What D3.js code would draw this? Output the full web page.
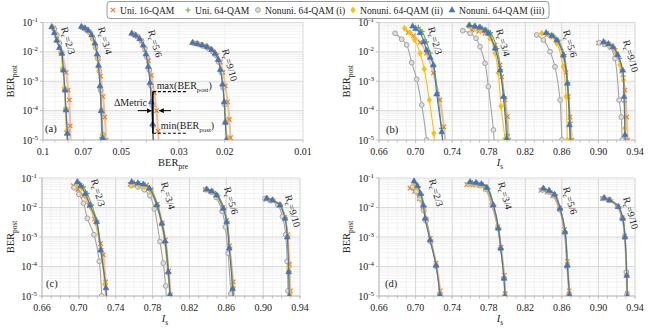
<!DOCTYPE html>
<html>
<head>
<meta charset="utf-8">
<script src="https://cdn.jsdelivr.net/npm/d3@7"></script>
<style>
body { margin: 0; background: #fff; }
svg { font-family: "Liberation Serif", "Times New Roman", serif; }
</style>
</head>
<body>
<svg id="chart" width="656" height="331"></svg>
<script>
// ---- data ----
const seriesNames = ["Uni. 16-QAM", "Uni. 64-QAM", "Nonuni. 64-QAM (i)", "Nonuni. 64-QAM (ii)", "Nonuni. 64-QAM (iii)"];
const rateNames = ["2/3", "3/4", "5/6", "9/10"];
const yTicks = [1e-1, 1e-2, 1e-3, 1e-4, 1e-5];
const yTickExp = ["-1", "-2", "-3", "-4", "-5"];
const berPreTicks = [0.1, 0.07, 0.05, 0.03, 0.02, 0.01];
const berPreTickLabels = ["0.1", "0.07", "0.05", "0.03", "0.02", "0.01"];
const isTicks = [0.66, 0.70, 0.74, 0.78, 0.82, 0.86, 0.90, 0.94];

// panel (a): BER_pre vs BER_post, one list per code rate
const a16 = [
  [[0.091,0.065],[0.0885,0.035],[0.0862,0.017],[0.0845,0.009],[0.0815,0.002],[0.0800,5e-4],[0.0792,2.3e-4],[0.0786,3e-5],[0.0782,5e-6]],
  [[0.0705,0.068],[0.0685,0.06],[0.0665,0.048],[0.0645,0.03],[0.0628,0.015],[0.0612,0.006],[0.0600,0.0015],[0.0588,3e-4],[0.0578,6e-5],[0.0572,1e-5],[0.0568,4e-6]],
  [[0.0450,0.04],[0.0434,0.033],[0.0418,0.023],[0.0405,0.012],[0.0393,0.005],[0.0383,0.0016],[0.0373,4e-4],[0.0366,1e-4],[0.0361,2e-5],[0.0358,6e-6]],
  [[0.0262,0.02],[0.0250,0.018],[0.0240,0.016],[0.0230,0.013],[0.0222,0.0105],[0.0214,0.0075],[0.0208,0.0045],[0.0203,0.002],[0.0199,7e-4],[0.0195,2e-4],[0.0192,5e-5],[0.0190,1.2e-5],[0.0189,5e-6]]
];
const a64 = [
  [[0.0915,0.068],[0.0895,0.042],[0.0875,0.022],[0.0852,0.0095],[0.0838,0.0025],[0.0826,5e-4],[0.0818,1e-4],[0.0810,1.5e-5],[0.0806,5e-6]],
  [[0.0708,0.07],[0.0688,0.063],[0.0668,0.052],[0.0648,0.035],[0.0630,0.018],[0.0618,0.0075],[0.0610,0.003],[0.0603,6e-4],[0.0598,9e-5],[0.0594,1.2e-5],[0.0591,5e-6]],
  [[0.0452,0.042],[0.0437,0.035],[0.0422,0.026],[0.0410,0.015],[0.0400,0.0075],[0.0392,0.0028],[0.0386,8e-4],[0.0382,1.8e-4],[0.0379,3e-5],[0.0377,7e-6]],
  [[0.0262,0.02],[0.0252,0.0185],[0.0242,0.0165],[0.0232,0.0145],[0.0224,0.0115],[0.0217,0.0085],[0.0211,0.005],[0.0207,0.0022],[0.0203,7e-4],[0.0201,1.8e-4],[0.0199,4e-5],[0.0197,1e-5],[0.0196,4e-6]]
];
const aN1 = [
  [[0.0905,0.06],[0.0885,0.038],[0.0865,0.02],[0.0848,0.009],[0.0836,0.0025],[0.0825,5.5e-4],[0.0815,1.1e-4],[0.0806,2e-5],[0.0800,5e-6]],
  [[0.0700,0.065],[0.0680,0.057],[0.0660,0.045],[0.0642,0.028],[0.0628,0.014],[0.0616,0.006],[0.0607,0.0022],[0.0600,5e-4],[0.0593,9e-5],[0.0588,1.5e-5],[0.0585,5e-6]],
  [[0.0448,0.04],[0.0432,0.033],[0.0418,0.024],[0.0406,0.013],[0.0398,0.0065],[0.0390,0.0024],[0.0384,7e-4],[0.0380,1.5e-4],[0.0377,3e-5],[0.0375,7e-6]],
  [[0.0264,0.0195],[0.0253,0.018],[0.0243,0.016],[0.0233,0.014],[0.0224,0.011],[0.0217,0.008],[0.0211,0.0045],[0.0206,0.002],[0.0203,6e-4],[0.0200,1.6e-4],[0.0198,4e-5],[0.0196,1e-5],[0.0195,4e-6]]
];
const aN2 = [
  [[0.092,0.07],[0.0898,0.044],[0.0878,0.024],[0.0855,0.01],[0.0840,0.0028],[0.0828,6e-4],[0.0820,1.2e-4],[0.0812,2e-5],[0.0806,5e-6]],
  [[0.0710,0.07],[0.0690,0.062],[0.0670,0.05],[0.0650,0.033],[0.0632,0.017],[0.0619,0.007],[0.0610,0.0028],[0.0603,6e-4],[0.0596,1.1e-4],[0.0590,1.5e-5],[0.0586,5e-6]],
  [[0.0454,0.043],[0.0438,0.036],[0.0423,0.027],[0.0411,0.016],[0.0401,0.008],[0.0393,0.003],[0.0387,8.5e-4],[0.0382,1.9e-4],[0.0378,3.5e-5],[0.0375,8e-6]],
  [[0.0265,0.0205],[0.0254,0.019],[0.0243,0.0168],[0.0233,0.0148],[0.0224,0.0118],[0.0217,0.0088],[0.0211,0.0052],[0.0207,0.0024],[0.0203,7.5e-4],[0.0200,1.9e-4],[0.0198,4.5e-5],[0.0196,1.1e-5],[0.0195,4e-6]]
];
const aN3 = [
  [[0.0926,0.072],[0.0905,0.045],[0.0886,0.025],[0.0865,0.014],[0.0847,0.009],[0.0835,0.0024],[0.0823,5e-4],[0.0816,1.05e-4],[0.0806,1.7e-5],[0.0800,5e-6]],
  [[0.0712,0.073],[0.0690,0.065],[0.0670,0.055],[0.0650,0.038],[0.0632,0.02],[0.0620,0.0085],[0.0612,0.0035],[0.0604,7e-4],[0.0597,1e-4],[0.0590,1.2e-5],[0.0587,5e-6]],
  [[0.0456,0.043],[0.0440,0.037],[0.0425,0.028],[0.0412,0.017],[0.0402,0.0085],[0.0394,0.0032],[0.0388,9e-4],[0.0383,2e-4],[0.0379,3.5e-5],[0.0376,8e-6]],
  [[0.0266,0.021],[0.0255,0.019],[0.0244,0.017],[0.0234,0.015],[0.0225,0.012],[0.0218,0.009],[0.0212,0.0055],[0.0208,0.0025],[0.0204,8e-4],[0.0201,2e-4],[0.0199,4e-5],[0.0197,1e-5],[0.0196,4e-6]]
];

// panel (b): I_s vs BER_post
const b16 = [
  [[0.692,0.045],[0.6975,0.035],[0.705,0.021],[0.712,0.009],[0.7195,0.0019],[0.7267,2.3e-4],[0.731,2.8e-5],[0.733,6e-6]],
  [[0.7614,0.0556],[0.769,0.05],[0.776,0.043],[0.782,0.03],[0.7869,0.017],[0.7924,0.0036],[0.7942,0.0014],[0.7978,2.3e-4],[0.8004,6.3e-5],[0.802,1e-5],[0.8025,6e-6]],
  [[0.8435,0.0376],[0.850,0.032],[0.856,0.02],[0.8616,0.0069],[0.8646,0.002],[0.867,3e-4],[0.869,6e-5],[0.871,1e-5],[0.8715,6e-6]],
  [[0.900,0.02],[0.907,0.018],[0.914,0.014],[0.920,0.008],[0.9255,0.0022],[0.929,5e-4],[0.931,6e-5],[0.932,1e-5],[0.9325,6e-6]]
];
const b64 = [
  [[0.703,0.069],[0.707,0.05],[0.712,0.022],[0.716,0.009],[0.720,0.0035],[0.724,4e-4],[0.7285,2.5e-5],[0.730,8e-6]],
  [[0.764,0.075],[0.769,0.07],[0.773,0.065],[0.778,0.055],[0.782,0.045],[0.789,0.013],[0.793,0.0025],[0.797,3e-4],[0.8005,1.5e-5],[0.801,7e-6]],
  [[0.845,0.043],[0.851,0.035],[0.856,0.025],[0.8625,0.008],[0.8665,9e-4],[0.869,4e-5],[0.8698,8e-6]],
  [[0.908,0.021],[0.913,0.018],[0.918,0.013],[0.923,0.006],[0.927,0.0015],[0.9285,2e-4],[0.9295,1.5e-5],[0.930,7e-6]]
];
const bN1 = [
  [[0.6775,0.043],[0.6848,0.027],[0.6903,0.0172],[0.6958,0.0043],[0.7012,0.00117],[0.7067,1.56e-4],[0.7122,1e-5],[0.713,6e-6]],
  [[0.7516,0.0526],[0.7596,0.043],[0.7661,0.029],[0.7705,0.015],[0.776,0.0041],[0.7796,6.5e-4],[0.7851,2.2e-5],[0.786,8e-6]],
  [[0.8325,0.0376],[0.8398,0.0254],[0.8471,0.0102],[0.8525,0.0031],[0.858,2.3e-4],[0.860,1e-5],[0.8605,6e-6]],
  [[0.901,0.0206],[0.907,0.018],[0.9127,0.015],[0.918,0.006],[0.9227,2.3e-4],[0.925,6e-5],[0.926,1e-5],[0.9265,6e-6]]
];
const bN2 = [
  [[0.688,0.064],[0.694,0.045],[0.699,0.026],[0.705,0.009],[0.7095,0.0026],[0.715,2.3e-4],[0.720,1.7e-5],[0.721,6e-6]],
  [[0.7577,0.076],[0.764,0.065],[0.7705,0.0555],[0.7814,0.029],[0.7869,0.009],[0.7905,0.0019],[0.7935,1.4e-4],[0.7978,1.1e-5],[0.7985,6e-6]],
  [[0.838,0.043],[0.847,0.035],[0.8544,0.0196],[0.8616,0.0031],[0.8646,3e-4],[0.866,1e-5],[0.8665,6e-6]],
  [[0.907,0.0206],[0.913,0.017],[0.918,0.012],[0.9237,0.0036],[0.9273,0.0011],[0.929,2.5e-5],[0.9295,7e-6]]
];
const bN3 = [
  [[0.6968,0.076],[0.700,0.062],[0.7049,0.045],[0.709,0.022],[0.7122,0.0116],[0.716,0.0065],[0.7194,0.0036],[0.7231,3.7e-4],[0.7286,1.9e-5],[0.7295,8e-6]],
  [[0.7589,0.082],[0.765,0.075],[0.7705,0.069],[0.776,0.055],[0.7796,0.043],[0.7869,0.0133],[0.7924,0.0024],[0.796,3e-4],[0.7997,1.1e-5],[0.800,7e-6]],
  [[0.8427,0.045],[0.849,0.036],[0.8544,0.0254],[0.8616,0.0078],[0.866,8.6e-4],[0.8683,3.3e-5],[0.869,8e-6]],
  [[0.9055,0.0222],[0.911,0.019],[0.916,0.015],[0.921,0.008],[0.9266,0.0024],[0.928,3e-4],[0.929,1.5e-5],[0.9293,7e-6]]
];

// panel (c)
const c16 = [
  [[0.694,0.055],[0.699,0.04],[0.705,0.025],[0.711,0.012],[0.717,0.004],[0.7235,6e-4],[0.7265,2.5e-4],[0.729,3e-5],[0.7305,8e-6]],
  [[0.7555,0.061],[0.762,0.059],[0.7736,0.058],[0.7785,0.04],[0.785,0.013],[0.7905,0.003],[0.794,8e-4],[0.7975,7e-5],[0.7995,1.1e-5],[0.800,6e-6]],
  [[0.837,0.04],[0.843,0.035],[0.849,0.026],[0.8565,0.01],[0.8605,0.0036],[0.8635,5e-4],[0.8675,3e-5],[0.8685,8e-6]],
  [[0.903,0.019],[0.910,0.017],[0.9175,0.012],[0.9235,0.0045],[0.9265,0.0012],[0.9285,1.2e-4],[0.9295,1.5e-5],[0.930,6e-6]]
];
const c64 = [
  [[0.701,0.065],[0.705,0.05],[0.709,0.03],[0.714,0.012],[0.7195,0.0035],[0.724,4e-4],[0.7285,2.5e-5],[0.7295,8e-6]],
  [[0.760,0.07],[0.766,0.065],[0.772,0.058],[0.778,0.042],[0.7855,0.012],[0.7905,0.0028],[0.7945,6.5e-4],[0.7975,6e-5],[0.7993,1e-5],[0.7998,6e-6]],
  [[0.840,0.04],[0.846,0.035],[0.851,0.026],[0.8575,0.0095],[0.861,0.0033],[0.8638,4.5e-4],[0.8672,2e-5],[0.868,8e-6]],
  [[0.905,0.02],[0.911,0.018],[0.919,0.012],[0.924,0.0045],[0.9266,0.0011],[0.928,7e-5],[0.9287,1e-5],[0.929,6e-6]]
];
const cN1 = [
  [[0.6947,0.047],[0.700,0.028],[0.705,0.014],[0.7092,0.0043],[0.7164,0.0012],[0.7222,1.5e-4],[0.7248,1e-5],[0.725,6e-6]],
  [[0.757,0.055],[0.764,0.05],[0.771,0.04],[0.777,0.025],[0.782,0.009],[0.788,7e-4],[0.7916,1.3e-4],[0.7942,2.2e-5],[0.795,8e-6]],
  [[0.838,0.04],[0.844,0.033],[0.849,0.022],[0.8555,0.0075],[0.859,0.0022],[0.862,2.8e-4],[0.865,1.2e-5],[0.8655,7e-6]],
  [[0.902,0.02],[0.908,0.017],[0.916,0.012],[0.921,0.005],[0.9245,0.0012],[0.926,1.5e-4],[0.927,1.5e-5],[0.9275,6e-6]]
];
const cN2 = [
  [[0.6985,0.06],[0.703,0.045],[0.708,0.025],[0.713,0.01],[0.7185,0.003],[0.7235,3.5e-4],[0.728,2.5e-5],[0.729,8e-6]],
  [[0.758,0.06],[0.765,0.058],[0.771,0.052],[0.7775,0.038],[0.784,0.012],[0.7895,0.0028],[0.793,6.5e-4],[0.7965,6e-5],[0.7985,1.1e-5],[0.799,6e-6]],
  [[0.8385,0.042],[0.8445,0.035],[0.8495,0.025],[0.857,0.009],[0.8605,0.003],[0.8635,4e-4],[0.8668,2e-5],[0.8675,8e-6]],
  [[0.9045,0.0205],[0.9105,0.018],[0.9185,0.0125],[0.924,0.0045],[0.9265,0.0011],[0.928,9e-5],[0.929,1.2e-5],[0.9293,6e-6]]
];
const cN3 = [
  [[0.6983,0.075],[0.702,0.055],[0.707,0.03],[0.712,0.012],[0.7193,0.0033],[0.7237,3.6e-4],[0.7294,1.9e-5],[0.730,8e-6]],
  [[0.7573,0.075],[0.764,0.068],[0.770,0.062],[0.7765,0.045],[0.7845,0.0122],[0.790,0.0029],[0.7935,7.3e-4],[0.797,6.6e-5],[0.7989,1.1e-5],[0.7995,6e-6]],
  [[0.8387,0.042],[0.844,0.036],[0.8495,0.0265],[0.8567,0.0094],[0.8604,0.0033],[0.8632,4.2e-4],[0.8669,1.8e-5],[0.8675,8e-6]],
  [[0.9038,0.0205],[0.910,0.018],[0.9182,0.0122],[0.9237,0.0043],[0.9262,0.001],[0.9277,6.6e-5],[0.9283,1e-5],[0.9285,6e-6]]
];

// panel (d)
const d16 = [
  [[0.6939,0.045],[0.699,0.035],[0.704,0.02],[0.708,0.01],[0.7115,0.004],[0.716,9e-4],[0.7225,1.3e-4],[0.727,1.5e-5],[0.728,6e-6]],
  [[0.756,0.06],[0.763,0.058],[0.770,0.055],[0.7765,0.042],[0.7835,0.012],[0.790,0.0022],[0.7935,4.5e-4],[0.797,5e-5],[0.798,1.2e-5],[0.7985,6e-6]],
  [[0.837,0.038],[0.844,0.033],[0.850,0.025],[0.8575,0.009],[0.863,0.0018],[0.866,1.5e-4],[0.868,1.5e-5],[0.8688,6e-6]],
  [[0.9045,0.02],[0.911,0.018],[0.9205,0.011],[0.926,0.0045],[0.9288,0.0011],[0.9308,6e-5],[0.9315,1.2e-5],[0.932,6e-6]]
];
const d64 = [
  [[0.700,0.065],[0.703,0.05],[0.7065,0.028],[0.7095,0.011],[0.7115,0.0042],[0.7165,8e-4],[0.7228,1e-4],[0.7268,1e-5],[0.7275,6e-6]],
  [[0.762,0.07],[0.768,0.067],[0.774,0.06],[0.7795,0.045],[0.7855,0.012],[0.791,0.002],[0.7935,4e-4],[0.797,4e-5],[0.798,1e-5],[0.7985,6e-6]],
  [[0.841,0.042],[0.847,0.037],[0.853,0.027],[0.8585,0.0092],[0.8638,0.0015],[0.8662,1.1e-4],[0.8685,1e-5],[0.869,6e-6]],
  [[0.9075,0.021],[0.9135,0.018],[0.9225,0.0105],[0.927,0.0042],[0.9292,0.001],[0.931,5e-5],[0.9316,1e-5],[0.932,6e-6]]
];
const dN1 = [
  [[0.697,0.05],[0.701,0.035],[0.705,0.02],[0.709,0.008],[0.7115,0.0035],[0.7165,7e-4],[0.7225,1e-4],[0.7265,1.2e-5],[0.7275,6e-6]],
  [[0.758,0.062],[0.765,0.06],[0.771,0.055],[0.777,0.042],[0.784,0.012],[0.7898,0.002],[0.793,4e-4],[0.7965,4e-5],[0.7975,1e-5],[0.798,6e-6]],
  [[0.8385,0.04],[0.845,0.034],[0.851,0.025],[0.8575,0.0085],[0.8628,0.0014],[0.8655,1e-4],[0.8678,1.1e-5],[0.8685,6e-6]],
  [[0.905,0.02],[0.9115,0.018],[0.921,0.011],[0.926,0.0042],[0.9287,0.001],[0.9305,6.5e-5],[0.9313,1.1e-5],[0.9318,6e-6]]
];
const dN2 = [
  [[0.699,0.06],[0.7025,0.045],[0.706,0.025],[0.709,0.01],[0.711,0.004],[0.716,8e-4],[0.7225,1.2e-4],[0.727,1.2e-5],[0.7278,6e-6]],
  [[0.759,0.065],[0.766,0.063],[0.772,0.058],[0.778,0.045],[0.7848,0.012],[0.7903,0.002],[0.7932,4.2e-4],[0.7968,4e-5],[0.7978,1e-5],[0.7982,6e-6]],
  [[0.840,0.043],[0.846,0.037],[0.852,0.027],[0.858,0.009],[0.8633,0.0015],[0.866,1.1e-4],[0.868,1.1e-5],[0.8687,6e-6]],
  [[0.907,0.021],[0.913,0.018],[0.922,0.0105],[0.9268,0.0043],[0.929,0.001],[0.9308,5e-5],[0.9314,1e-5],[0.9318,6e-6]]
];
const dN3 = [
  [[0.6983,0.079],[0.702,0.055],[0.7055,0.03],[0.7085,0.012],[0.7103,0.0043],[0.7158,8e-4],[0.7224,1.1e-4],[0.7267,1.1e-5],[0.7275,6e-6]],
  [[0.7596,0.075],[0.766,0.07],[0.772,0.064],[0.778,0.048],[0.785,0.0122],[0.7905,0.002],[0.7931,4.2e-4],[0.7967,4e-5],[0.7978,1e-5],[0.7982,6e-6]],
  [[0.8398,0.045],[0.846,0.038],[0.852,0.028],[0.858,0.0094],[0.8635,0.0015],[0.866,1.1e-4],[0.8683,1.1e-5],[0.8688,6e-6]],
  [[0.9062,0.0215],[0.912,0.018],[0.9218,0.0107],[0.9266,0.0043],[0.929,0.001],[0.931,5e-5],[0.9315,1e-5],[0.9318,6e-6]]
];

// ---- styling ----
const markerColors = ["#ED7D31", "#70AD47", "#A5A5A5", "#FFC000", "#4472C4"];
const lineColors = ["#F4B183", "#70AD47", "#A5A5A5", "#FFC000", "#4472C4"];
const lineWidths = [2.0, 1.1, 1.1, 1.1, 1.1];
const shapes = ["cross", "plus", "circle", "diamond", "triangle"];

const panels = [
  { tag: "(a)", series: [a16, a64, aN1, aN2, aN3], log: true, domain: [0.1, 0.01], left: 43, right: 303, top: 22.5, bottom: 140,
    title: ["BER", "pre", false], titleX: 173, titleY: 166, yTitleX: 14, tagPos: [45, 132],
    ratePos: [[61, 28], [98, 28], [148, 31], [222, 50]] },
  { tag: "(b)", series: [b16, b64, bN1, bN2, bN3], log: false, domain: [0.66, 0.94], left: 379, right: 635, top: 22.5, bottom: 140,
    title: ["I", "s", true], titleX: 500, titleY: 166, yTitleX: 350, tagPos: [386, 133],
    ratePos: [[428, 28], [496, 30], [563, 31], [623, 41]] },
  { tag: "(c)", series: [c16, c64, cN1, cN2, cN3], log: false, domain: [0.66, 0.94], left: 42, right: 300, top: 178, bottom: 296,
    title: ["I", "s", true], titleX: 165, titleY: 322, yTitleX: 14, tagPos: [46, 287],
    ratePos: [[91, 180], [161, 183], [224, 188], [285, 196]] },
  { tag: "(d)", series: [d16, d64, dN1, dN2, dN3], log: false, domain: [0.66, 0.94], left: 379, right: 635, top: 178, bottom: 296,
    title: ["I", "s", true], titleX: 500, titleY: 322, yTitleX: 350, tagPos: [385, 287],
    ratePos: [[429, 180], [498, 183], [563, 188], [623, 198]] }
];

const svg = d3.select("#chart");
const defs = svg.append("defs");
defs.append("marker").attr("id", "arrowhead")
  .attr("viewBox", "0 0 10 10").attr("refX", 9).attr("refY", 5)
  .attr("markerWidth", 5).attr("markerHeight", 5).attr("orient", "auto")
  .append("path").attr("d", "M0,0L10,5L0,10z").attr("fill", "#000");

function markerPath(shape, x, y) {
  if (shape === "cross") return `M${x-2.2},${y-2.2}L${x+2.2},${y+2.2}M${x-2.2},${y+2.2}L${x+2.2},${y-2.2}`;
  if (shape === "plus") return `M${x-2.6},${y}L${x+2.6},${y}M${x},${y-2.6}L${x},${y+2.6}`;
  if (shape === "diamond") return `M${x},${y-3}L${x+2.4},${y}L${x},${y+3}L${x-2.4},${y}Z`;
  if (shape === "triangle") return `M${x},${y-3.2}L${x+2.9},${y+2}L${x-2.9},${y+2}Z`;
  return null;
}

function drawMarkers(g, shape, color, pts) {
  if (shape === "circle") {
    g.selectAll("circle.m").data(pts).join("circle").attr("class", "m")
      .attr("cx", d => d[0]).attr("cy", d => d[1]).attr("r", 2.4)
      .attr("fill", "#dedede").attr("stroke", color).attr("stroke-width", 1);
  } else {
    const filled = shape === "diamond" || shape === "triangle";
    g.selectAll("path.m").data(pts).join("path").attr("class", "m")
      .attr("d", d => markerPath(shape, d[0], d[1]))
      .attr("fill", filled ? color : "none")
      .attr("stroke", color).attr("stroke-width", filled ? 0.6 : 1.2);
  }
}

function subText(sel, main, sub, italic, size) {
  sel.append("tspan").text(main).attr("font-style", italic ? "italic" : null);
  sel.append("tspan").text(sub).attr("font-size", size * 0.7).attr("dy", 3);
}

panels.forEach((p, pi) => {
  const x = (p.log ? d3.scaleLog() : d3.scaleLinear()).domain(p.domain).range([p.left, p.right]);
  const y = d3.scaleLog().domain([1e-5, 1e-1]).range([p.bottom, p.top]);
  const g = svg.append("g");

  // minor grid
  const minorY = [];
  [1e-5, 1e-4, 1e-3, 1e-2].forEach(dec => { for (let k = 2; k <= 9; k++) minorY.push(k * dec); });
  const minorX = p.log ? d3.range(2, 10).map(k => k * 0.01) : d3.range(66, 95).map(v => v / 100);
  const majorX = p.log ? [0.1, 0.01] : isTicks;
  g.selectAll("line.gy").data(minorY).join("line").attr("class", "gy")
    .attr("x1", p.left).attr("x2", p.right).attr("y1", d => y(d)).attr("y2", d => y(d))
    .attr("stroke", "#efefef").attr("stroke-width", 0.8);
  g.selectAll("line.gx").data(minorX).join("line").attr("class", "gx")
    .attr("x1", d => x(d)).attr("x2", d => x(d)).attr("y1", p.top).attr("y2", p.bottom)
    .attr("stroke", "#efefef").attr("stroke-width", 0.8);
  // major grid
  g.selectAll("line.Gy").data(yTicks).join("line").attr("class", "Gy")
    .attr("x1", p.left).attr("x2", p.right).attr("y1", d => y(d)).attr("y2", d => y(d))
    .attr("stroke", "#d6d6d6").attr("stroke-width", 0.9);
  g.selectAll("line.Gx").data(majorX).join("line").attr("class", "Gx")
    .attr("x1", d => x(d)).attr("x2", d => x(d)).attr("y1", p.top).attr("y2", p.bottom)
    .attr("stroke", "#d6d6d6").attr("stroke-width", 0.9);
  // axis lines and ticks
  g.append("line").attr("x1", p.left).attr("x2", p.right).attr("y1", p.bottom).attr("y2", p.bottom)
    .attr("stroke", "#bfbfbf").attr("stroke-width", 1);
  g.append("line").attr("x1", p.left).attr("x2", p.left).attr("y1", p.top).attr("y2", p.bottom)
    .attr("stroke", "#bfbfbf").attr("stroke-width", 1);
  g.selectAll("line.tx").data(minorX.concat(majorX)).join("line").attr("class", "tx")
    .attr("x1", d => x(d)).attr("x2", d => x(d)).attr("y1", p.bottom).attr("y2", p.bottom + 2.5)
    .attr("stroke", "#bfbfbf");
  g.selectAll("line.ty").data(yTicks).join("line").attr("class", "ty")
    .attr("x1", p.left - 3).attr("x2", p.left).attr("y1", d => y(d)).attr("y2", d => y(d))
    .attr("stroke", "#bfbfbf");

  // y tick labels
  yTicks.forEach((t, i) => {
    const tx = g.append("text").attr("x", p.left - 5).attr("y", y(t) + 3.5)
      .attr("text-anchor", "end").attr("font-size", 10).attr("fill", "#222");
    tx.append("tspan").text("10");
    tx.append("tspan").text(yTickExp[i]).attr("font-size", 7).attr("dy", -4);
  });
  // x tick labels
  const xt = p.log ? berPreTicks : isTicks;
  g.selectAll("text.xt").data(xt).join("text").attr("class", "xt")
    .attr("x", d => x(d)).attr("y", p.bottom + 14.5).attr("text-anchor", "middle")
    .attr("font-size", 10).attr("fill", "#222")
    .text((d, i) => p.log ? berPreTickLabels[i] : d3.format(".2f")(d));

  // axis titles
  const xTitle = g.append("text").attr("x", p.titleX).attr("y", p.titleY)
    .attr("text-anchor", "middle").attr("font-size", 10.5).attr("fill", "#222");
  subText(xTitle, p.title[0], p.title[1], p.title[2], 10.5);
  const yTitle = g.append("text")
    .attr("transform", `translate(${p.yTitleX},${(p.top + p.bottom) / 2}) rotate(-90)`)
    .attr("text-anchor", "middle").attr("font-size", 10.5).attr("fill", "#222");
  subText(yTitle, "BER", "post", false, 10.5);

  // curves
  const clipId = "clip" + pi;
  defs.append("clipPath").attr("id", clipId).append("rect")
    .attr("x", p.left).attr("y", p.top - 4).attr("width", p.right - p.left).attr("height", p.bottom - p.top + 4);
  const plot = g.append("g").attr("clip-path", `url(#${clipId})`);
  const line = d3.line().x(d => x(d[0])).y(d => y(d[1])).curve(d3.curveCatmullRom.alpha(0.5));
  p.series.forEach((rates, si) => {
    const sg = plot.append("g");
    rates.forEach(pts => {
      sg.append("path").attr("d", line(pts)).attr("fill", "none")
        .attr("stroke", lineColors[si]).attr("stroke-width", lineWidths[si])
        .attr("stroke-opacity", si === 0 ? 0.85 : 1);
    });
    const mpts = rates.flat().map(d => [x(d[0]), y(d[1])]);
    drawMarkers(sg, shapes[si], markerColors[si], mpts);
  });

  // code-rate labels
  rateNames.forEach((r, i) => {
    const t = g.append("text")
      .attr("transform", `translate(${p.ratePos[i][0]},${p.ratePos[i][1]}) rotate(74)`)
      .attr("font-size", 10).attr("fill", "#222");
    t.append("tspan").text("R");
    t.append("tspan").text("c").attr("font-size", 7).attr("dy", 2.5);
    t.append("tspan").text("=" + r).attr("dy", -2.5);
  });

  // panel tag
  g.append("text").attr("x", p.tagPos[0]).attr("y", p.tagPos[1])
    .attr("font-size", 10.5).attr("fill", "#222").text(p.tag);

  // annotation for panel (a)
  if (p.log) {
    const ax = x(0.0378), aMax = y(4.4e-4), aMin = y(1.7e-5), aEnd = x(0.0278);
    g.append("line").attr("x1", ax).attr("x2", ax).attr("y1", aMax).attr("y2", aMin)
      .attr("stroke", "#000").attr("stroke-width", 1.6);
    [aMax, aMin].forEach(yy => {
      g.append("line").attr("x1", ax).attr("x2", aEnd).attr("y1", yy).attr("y2", yy)
        .attr("stroke", "#000").attr("stroke-width", 1.2).attr("stroke-dasharray", "3,2");
    });
    const ay = y(1e-4);
    g.append("line").attr("x1", x(0.0432)).attr("x2", x(0.0383)).attr("y1", ay).attr("y2", ay)
      .attr("stroke", "#000").attr("stroke-width", 1).attr("marker-end", "url(#arrowhead)");
    g.append("line").attr("x1", x(0.0322)).attr("x2", x(0.0357)).attr("y1", ay).attr("y2", ay)
      .attr("stroke", "#000").attr("stroke-width", 1).attr("marker-end", "url(#arrowhead)");
    g.append("text").attr("x", x(0.0398)).attr("y", ay - 5).attr("text-anchor", "end")
      .attr("font-size", 10).attr("fill", "#222").text("\u0394Metric");
    const tMax = g.append("text").attr("x", ax + 4).attr("y", aMax - 3).attr("font-size", 10).attr("fill", "#222");
    subText(tMax, "max(BER", "post", false, 10);
    tMax.append("tspan").text(")").attr("dy", -3);
    const tMin = g.append("text").attr("x", ax + 8).attr("y", aMin - 4).attr("font-size", 10).attr("fill", "#222");
    subText(tMin, "min(BER", "post", false, 10);
    tMin.append("tspan").text(")").attr("dy", -3);
  }
});

// legend
const legendX = [113, 188, 258, 353, 452];
const lg = svg.append("g");
lg.append("rect").attr("x", 107).attr("y", 1.5).attr("width", 442).attr("height", 17).attr("rx", 3)
  .attr("fill", "#fff").attr("stroke", "#7f7f7f").attr("stroke-width", 0.8);
seriesNames.forEach((name, i) => {
  const item = lg.append("g");
  drawMarkers(item, shapes[i], markerColors[i], [[legendX[i], 10]]);
  item.append("text").attr("x", legendX[i] + 7).attr("y", 13.5)
    .attr("font-size", 9.6).attr("fill", "#222").text(name);
});
</script>
</body>
</html>
